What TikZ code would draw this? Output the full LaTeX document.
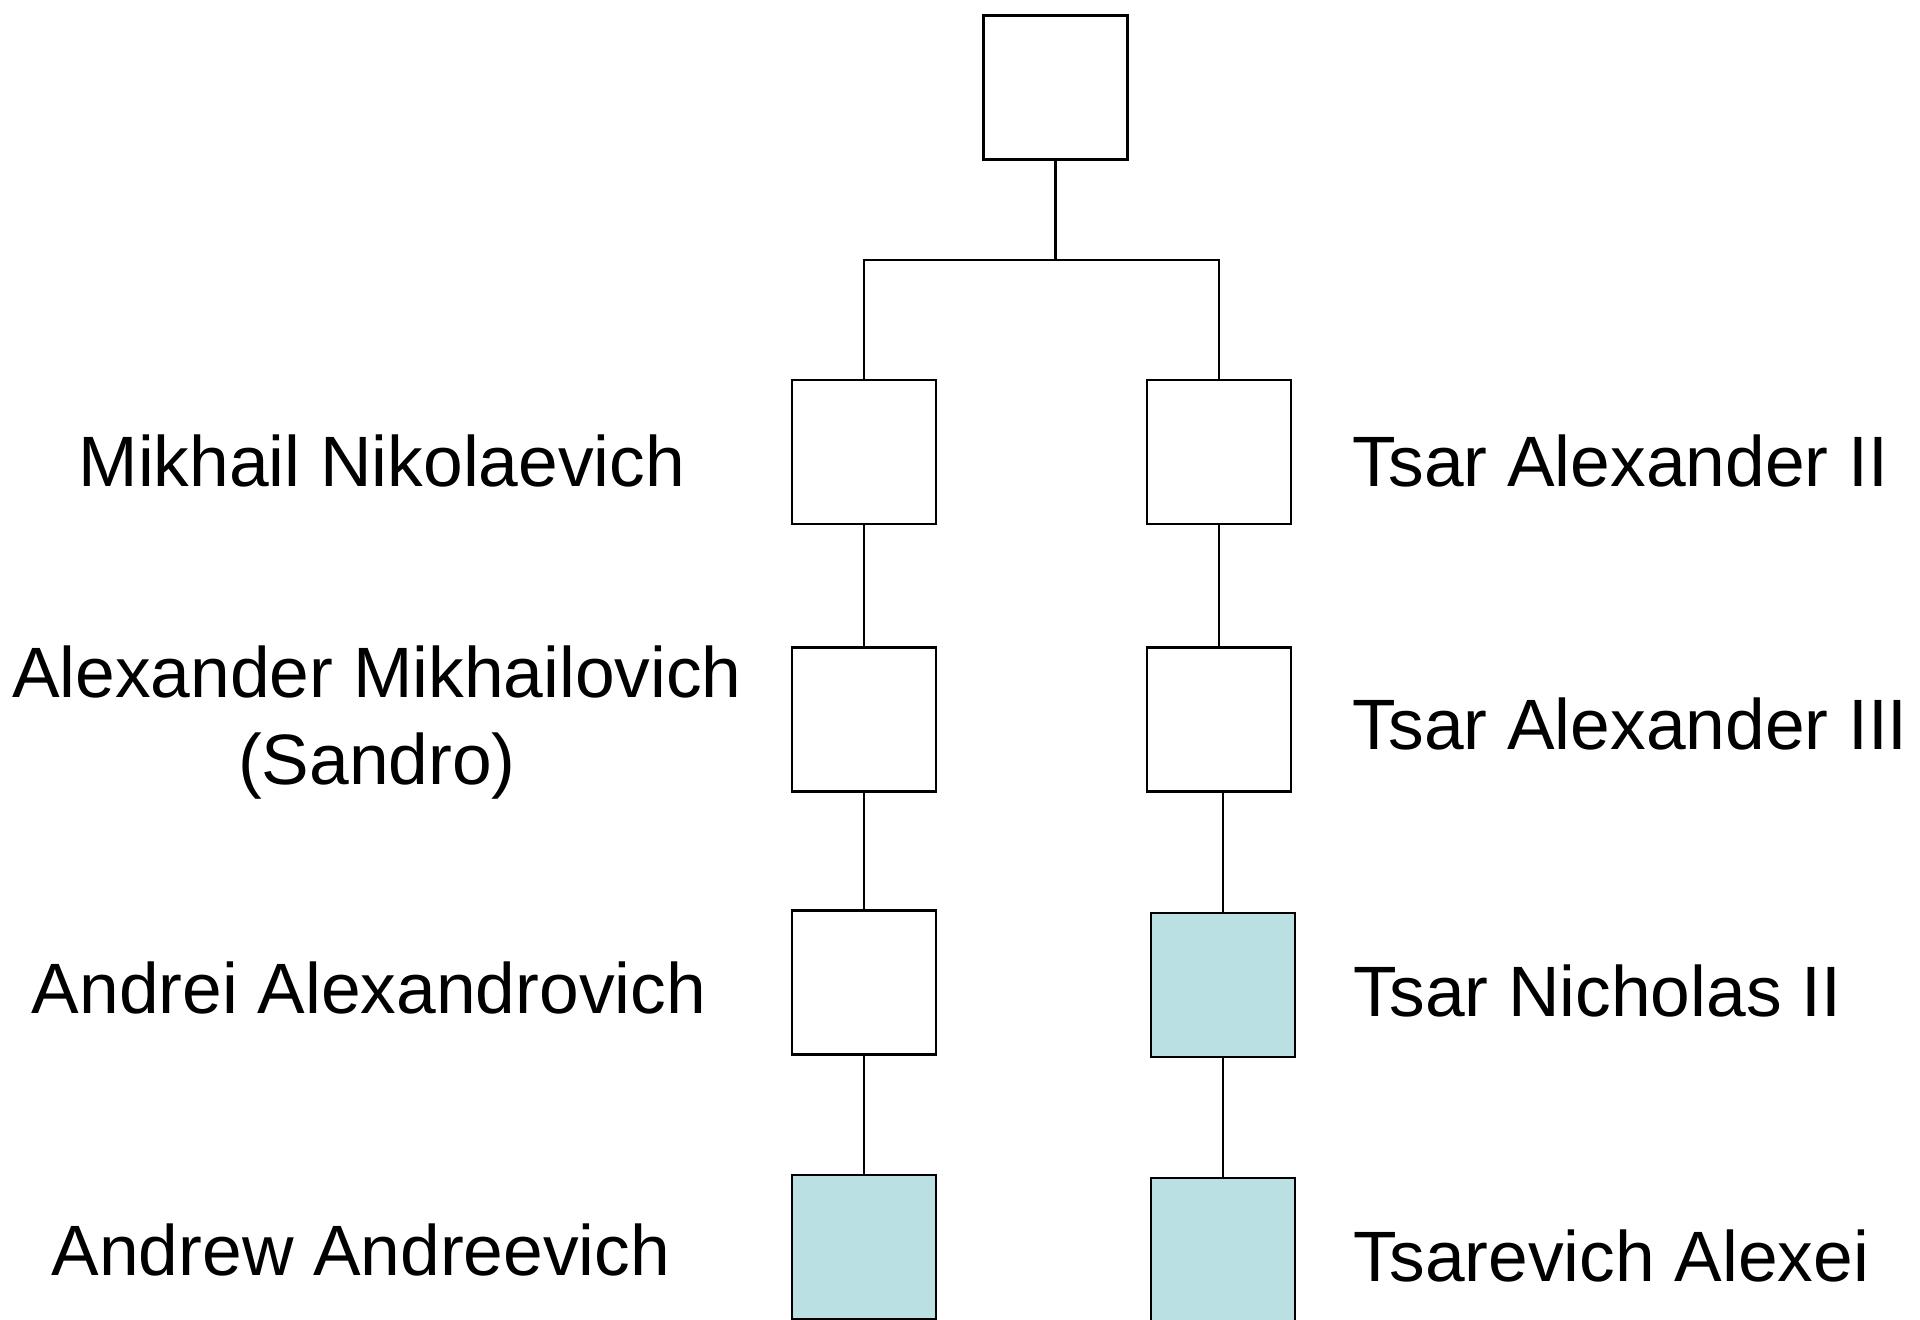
\documentclass[tikz,border=0pt]{standalone}
\usepackage{fontspec}
\setmainfont{Liberation Sans}
\usepackage{xcolor}
\usepackage{tikz}
\usetikzlibrary{positioning, calc}
\definecolor{RoyalBlue}{RGB}{187,224,227}
\tikzset{
    % Person (empty square)
    person/.style={rectangle, draw=black, fill=white, line width=0.8pt,
        minimum width=1.44cm, minimum height=1.44cm, inner sep=0pt},
    % Person of the blood line (filled square)
    bloodperson/.style={person, fill=RoyalBlue},
    % Name label
    namelabel/.style={font=\fontsize{20.3}{24.5}\selectfont, inner sep=0pt, align=center},
    % Family line
    famline/.style={line width=0.8pt, black},
}

\begin{document}
\begin{tikzpicture}[y=-1cm]
    \useasboundingbox (0,0) rectangle (19.2,13.19);
    % top ancestor
    \node[person] (top) at (10.555,0.875) {};
    \coordinate (fork) at (10.555,2.6);
    % left branch
    \node[person] (mikhail) at (8.64,4.52) {};
    \node[person] (sandro) at (8.64,7.195) {};
    \node[person] (andrei) at (8.64,9.825) {};
    \node[bloodperson] (andrew) at (8.64,12.47) {};
    % right branch
    \node[person] (alex2) at (12.19,4.52) {};
    \node[person] (alex3) at (12.19,7.195) {};
    \node[bloodperson] (nicholas) at (12.23,9.85) {};
    \node[bloodperson] (alexei) at (12.23,12.5) {};
    % names
    \node[namelabel, anchor=base] (lmikhail) at (3.82,4.86) {Mikhail Nikolaevich};
    \node[namelabel, anchor=base] (lsandro) at (3.77,7.84) {Alexander Mikhailovich\\(Sandro)};
    \node[namelabel, anchor=base] (landrei) at (3.69,10.13) {Andrei Alexandrovich};
    \node[namelabel, anchor=base] (landrew) at (3.61,12.75) {Andrew Andreevich};
    \node[namelabel, anchor=base west] (lalex2) at (13.52,4.86) {Tsar Alexander II};
    \node[namelabel, anchor=base west] (lalex3) at (13.52,7.49) {Tsar Alexander III};
    \node[namelabel, anchor=base west] (lnicholas) at (13.53,10.16) {Tsar Nicholas II};
    \node[namelabel, anchor=base west] (lalexei) at (13.53,12.81) {Tsarevich Alexei};
    % lines
    \draw[famline] (top) -- (fork);
    \draw[famline] (mikhail.north) |- (fork) -| (alex2.north);
    \draw[famline] (mikhail) -- (sandro);
    \draw[famline] (sandro) -- (andrei);
    \draw[famline] (andrei) -- (andrew);
    \draw[famline] (alex2) -- (alex3);
    \draw[famline] (nicholas.north) -- (nicholas.north |- alex3.south);
    \draw[famline] (nicholas) -- (alexei);
\end{tikzpicture}
\end{document}
